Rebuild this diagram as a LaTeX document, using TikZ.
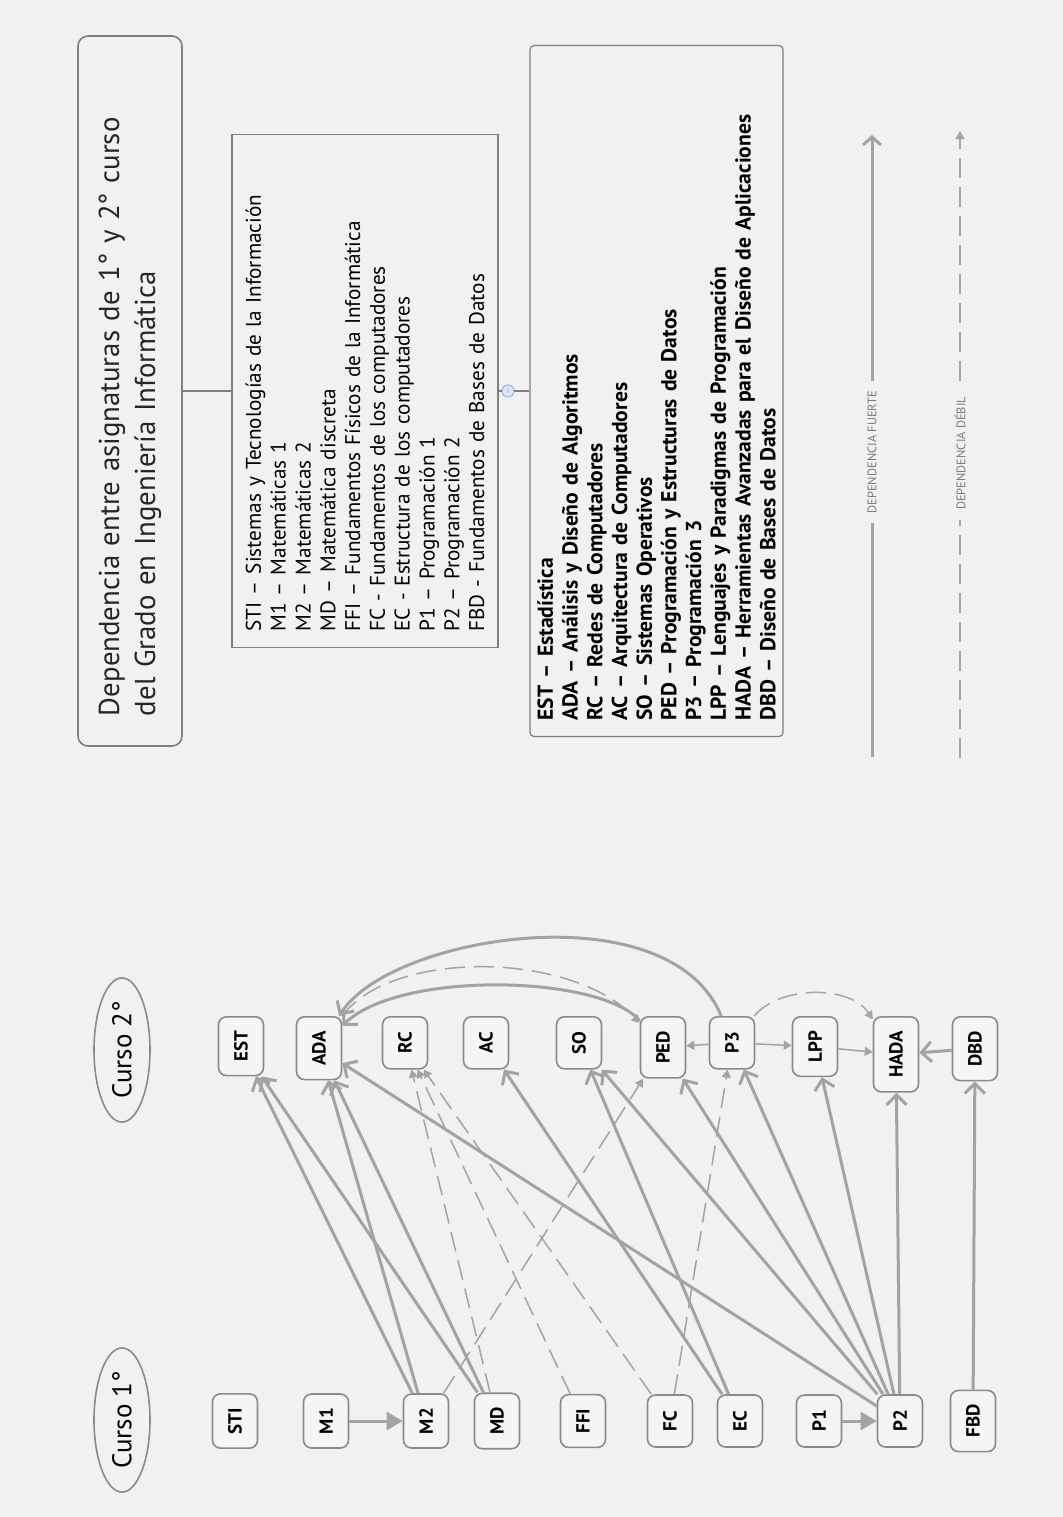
\documentclass[tikz,border=0pt]{standalone}
\usepackage{fontspec}
\setmainfont{PT Sans}
\usetikzlibrary{arrows.meta,shapes.geometric}
\definecolor{fondo}{HTML}{F1F1F1}
\definecolor{cajafondo}{HTML}{F5F5F5}
\definecolor{cajaborde}{HTML}{8A8A8A}
\definecolor{flecha}{HTML}{A3A3A3}
\definecolor{marco}{HTML}{7E7E7E}
\definecolor{rotulo}{HTML}{7A7A7A}
\definecolor{infoazul}{HTML}{7FA7E0}
\definecolor{infofondo}{HTML}{DDE8F8}

\begin{document}
\begin{tikzpicture}[x=0.5pt,y=-0.5pt,
subj/.style={draw=cajaborde,fill=cajafondo,rounded corners=4pt,line width=0.8pt,rotate=90,minimum height=22.5pt,minimum width=26pt,inner xsep=7pt,inner ysep=2pt,font=\bfseries\fontsize{9.5}{11}\selectfont},
curso/.style={ellipse,draw=cajaborde,line width=0.8pt,rotate=90,minimum width=72pt,minimum height=28pt,inner sep=1pt,text=black,font=\fontsize{13.5}{15}\selectfont},
listbox/.style={draw=marco,line width=0.6pt,rotate=90,align=left,inner xsep=8pt,text=black},
strongdep/.style={draw=flecha,line width=1.5pt,-{Straight Barb[length=5pt,width=10pt]}},
weakdep/.style={draw=flecha,line width=0.75pt,dash pattern=on 10pt off 4.5pt,-{Triangle[length=4pt,width=4.5pt]}},
thindep/.style={draw=flecha,line width=0.75pt,-{Triangle[length=4pt,width=4.5pt]}},
bigdep/.style={draw=flecha,line width=1.5pt,-{Triangle[length=8pt,width=9pt]}},
leyenda/.style={rotate=90,fill=fondo,text=rotulo,inner xsep=5pt,font=\fontsize{6.2}{7}\selectfont}]
\fill[fondo] (0,0) rectangle (1063,1517);

\node[rotate=90,draw=marco,line width=0.8pt,rounded corners=5pt,minimum width=354.5pt,minimum height=52pt,text width=325pt,inner xsep=15pt,align=left,text=black!85,font=\fontsize{14.4}{18}\selectfont] (titulo) at (130,391) {Dependencia entre asignaturas de 1° y 2° curso\\del Grado en Ingeniería Informática};
\node[listbox,minimum width=256.5pt,minimum height=133pt,text width=240.5pt,font=\fontsize{10.6}{12.4}\selectfont] (asig1) at (365,391) {STI – Sistemas y Tecnologías de la Información\\M1 – Matemáticas 1\\M2 – Matemáticas 2\\MD – Matemática discreta\\FFI – Fundamentos Físicos de la Informática\\FC - Fundamentos de los computadores\\EC - Estructura de los computadores\\P1 – Programación 1\\P2 – Programación 2\\FBD - Fundamentos de Bases de Datos};
\node[listbox,rounded corners=2pt,minimum width=345.5pt,minimum height=126.5pt,text width=329.5pt,font=\bfseries\fontsize{10.8}{12.35}\selectfont] (asig2) at (656.5,391) {EST – Estadística\\ADA – Análisis y Diseño de Algoritmos\\RC – Redes de Computadores\\AC – Arquitectura de Computadores\\SO – Sistemas Operativos\\PED – Programación y Estructuras de Datos\\P3 – Programación 3\\LPP – Lenguajes y Paradigmas de Programación\\HADA – Herramientas Avanzadas para el Diseño de Aplicaciones\\DBD – Diseño de Bases de Datos};
\node[circle,draw=infoazul,fill=infofondo,inner sep=0pt,minimum size=6pt,text=infoazul,font=\fontsize{4}{4}\selectfont] (info) at (508,391) {i};
\draw[marco,line width=0.6pt] (titulo.south) -- (asig1.north);
\draw[marco,line width=0.6pt] (asig1.south) -- (info) -- (asig2.north);

\coordinate (fuerteini) at (872,757);
\coordinate (fuertefin) at (872,135);
\coordinate (debilini) at (960,758);
\coordinate (debilfin) at (960,131);
\draw[strongdep,-{Straight Barb[length=4pt,width=9pt]}] (fuerteini) -- node[leyenda,pos=0.49] {DEPENDENCIA FUERTE} (fuertefin);
\draw[weakdep] (debilini) -- node[leyenda,pos=0.486] {DEPENDENCIA DÉBIL} (debilfin);

\node[curso] (curso1) at (122,1420) {Curso 1°};
\node[curso] (curso2) at (122,1050) {Curso 2°};
\foreach \n/\x/\t in %
{sti/235/STI,m1/326/M1,m2/426/M2,md/497/MD,ffi/583/FFI,fc/670/FC,ec/740/EC,p1/819/P1,p2/900/P2,fbd/973/FBD} {
   \node[subj] (\n) at (\x,1421) {\t};
}
\foreach \n/\x/\t in %
{est/241/EST,ada/319/ADA,rc/405/RC,ac/486/AC,so/579/SO,ped/663/PED,p3/732/P3,lpp/815/LPP,hada/896/HADA,dbd/975/DBD} {
   \node[subj,anchor=east] (\n) at (\x,1016) {\t};
}

\foreach \a/\b in {m1/m2,p1/p2} \draw[bigdep] (\a) -- (\b);
\foreach \a/\b in %
{m2/est,m2/ada,md/est,md/ada,p2/ada,ec/ac,ec/so,p2/so,p2/ped,p2/p3,p2/lpp,p2/hada,fbd/dbd,dbd/hada} {
   \draw[strongdep] (\a) -- (\b);
}
\foreach \a/\b in {md/rc,ffi/rc,fc/rc,fc/p3,m2/ped} \draw[weakdep] (\a) -- (\b);
\foreach \a/\b in {p3/ped,p3/lpp,lpp/hada} \draw[thindep] (\a) -- (\b);
\draw[strongdep] (p3) .. controls (670,890) and (390,935) .. (ada);
\draw[strongdep] (ped) .. controls (600,975) and (400,970) .. (ada);
\draw[weakdep] (ada) .. controls (390,950) and (570,950) .. (ped);
\draw[weakdep] (p3) .. controls (780,985) and (850,985) .. (hada);
\end{tikzpicture}
\end{document}
